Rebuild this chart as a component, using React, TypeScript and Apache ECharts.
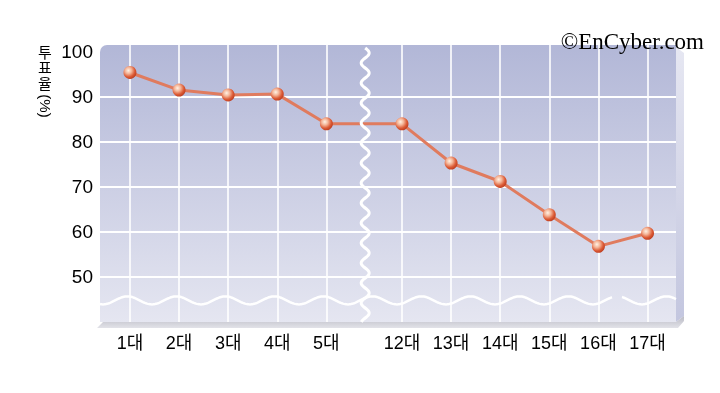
import React, { useEffect, useRef } from "react";
import * as echarts from "echarts";

const categories = ["1대", "2대", "3대", "4대", "5대", "12대", "13대", "14대", "15대", "16대", "17대"];
const turnout = [95.4, 91.5, 90.4, 90.6, 84.0, 84.0, 75.3, 71.2, 63.8, 56.8, 59.7];
const yTickLabels = [50, 60, 70, 80, 90, 100];
const gridValues = [50, 60, 70, 80, 90];
const titleChars = ["투", "표", "율"];
const titleUnit = "(%)";
const breakAfterIndex = 5; // 12대 onward is shifted past the axis break
const breakGap = 0.54;

const positions = categories.map((_, i) => i + (i >= breakAfterIndex ? breakGap : 0));

// layout (pixels)
const PL = 100, PT = 45, PR = 676, PB = 322;
const FONT = "'Liberation Sans', 'Noto Sans CJK KR', Arial, sans-serif";

function wavePointsH(x0: number, x1: number, yc: number, amp: number, period: number) {
  const pts: number[][] = [];
  for (let x = x0; x <= x1; x += 1) {
    pts.push([x, yc + amp * Math.sin((2 * Math.PI * (x - PL)) / period + 1.2)]);
  }
  return pts;
}
function wavePointsV(y0: number, y1: number, xc: number, amp: number, period: number) {
  const pts: number[][] = [];
  for (let y = y0; y <= y1; y += 1) {
    pts.push([xc + amp * Math.sin((2 * Math.PI * (y - y0)) / period), y]);
  }
  return pts;
}

export default function App() {
  const ref = useRef<HTMLDivElement>(null);
  useEffect(() => {
    if (!ref.current) return;
    const chart = echarts.init(ref.current, undefined, { renderer: "svg" });
    const xMin = -0.61;
    const xMax = 11.12;
    const breakPos = (positions[breakAfterIndex - 1] + positions[breakAfterIndex]) / 2;
    const breakPx = PL + ((breakPos - xMin) / (xMax - xMin)) * (PR - PL);
    const waveYVal = 44.8;
    const waveYPx = PB - ((waveYVal - 40) / (101.5 - 40)) * (PB - PT);

    const titleEls = titleChars.map((c, i) => ({
      type: "text",
      z: 10,
      style: {
        x: 45,
        y: 52 + i * 15.5,
        text: c,
        fontSize: 15,
        fontFamily: FONT,
        fill: "#000",
        align: "center",
        verticalAlign: "middle",
      },
    }));

    const option: any = {
      animation: false,
      grid: { left: PL, top: PT, right: 720 - PR, bottom: 393 - PB, containLabel: false },
      xAxis: {
        type: "value",
        min: xMin,
        max: xMax,
        axisLine: { show: false },
        axisTick: { show: false },
        splitLine: { show: false },
        axisLabel: {
          customValues: positions,
          margin: 12,
          fontSize: 18,
          color: "#000",
          fontFamily: FONT,
          formatter: (v: number) => {
            const idx = positions.findIndex((p) => Math.abs(p - v) < 1e-6);
            return idx >= 0 ? categories[idx] : "";
          },
        },
      },
      yAxis: {
        type: "value",
        min: 40,
        max: 101.5,
        interval: 10,
        axisLine: { show: false },
        axisTick: { show: false },
        splitLine: { show: false },
        axisLabel: {
          margin: 7,
          fontSize: 19,
          color: "#000",
          fontFamily: FONT,
          formatter: (v: number) => (yTickLabels.includes(v) ? String(v) : ""),
        },
      },
      graphic: [
        {
          type: "rect",
          z: -10,
          shape: { x: PL, y: PT, width: PR - PL, height: PB - PT, r: [7, 0, 0, 0] },
          style: {
            fill: new echarts.graphic.LinearGradient(0, 0, 0, 1, [
              { offset: 0, color: "#b2b7d7" },
              { offset: 1, color: "#e5e6f1" },
            ]),
          },
        },
        {
          type: "polygon",
          z: -10,
          shape: { points: [[PR, PT + 2], [PR + 8, PT + 8], [PR + 8, PB - 6], [PR, PB]] },
          style: {
            fill: new echarts.graphic.LinearGradient(0, 0, 0, 1, [
              { offset: 0, color: "#e6e7f2" },
              { offset: 1, color: "#c3c6df" },
            ]),
          },
        },
        {
          type: "polygon",
          z: -10,
          shape: { points: [[PL + 3, PB], [PR, PB], [PR + 8, PB - 6], [PR + 8, PB - 1], [PR + 2, PB + 6], [PL - 3, PB + 6]] },
          style: {
            fill: new echarts.graphic.LinearGradient(0, 0, 0, 1, [
              { offset: 0, color: "#b9bac4" },
              { offset: 1, color: "#e2e2e8" },
            ]),
          },
        },
        {
          type: "polyline",
          z: 1,
          shape: { points: wavePointsH(PL, 612, waveYPx, 4, 49) },
          style: { stroke: "#ffffff", lineWidth: 2.5, fill: "none" },
        },
        {
          type: "polyline",
          z: 1,
          shape: { points: wavePointsH(622, PR, waveYPx, 4, 49) },
          style: { stroke: "#ffffff", lineWidth: 2.5, fill: "none" },
        },
        {
          type: "polyline",
          z: 10,
          shape: { points: wavePointsV(PT + 3, PB, breakPx + 1, 4, 20) },
          style: { stroke: "#ffffff", lineWidth: 3, fill: "none" },
        },
        ...titleEls,
        {
          type: "text",
          z: 10,
          x: 45,
          y: 106,
          rotation: -Math.PI / 2,
          style: {
            x: 0,
            y: 0,
            text: titleUnit,
            fontSize: 15,
            fontFamily: FONT,
            fill: "#000",
            align: "center",
            verticalAlign: "middle",
          },
        },
        {
          type: "text",
          z: 10,
          style: {
            x: 704,
            y: 41,
            text: "©EnCyber.com",
            fontSize: 23,
            fontFamily: "'Liberation Serif', 'Times New Roman', serif",
            fill: "#000",
            align: "right",
            verticalAlign: "middle",
          },
        },
      ],
      series: [
        {
          type: "line",
          data: [],
          silent: true,
          z: 1,
          markLine: {
            silent: true,
            symbol: "none",
            label: { show: false },
            animation: false,
            data: [
              ...gridValues.map((v) => ({ yAxis: v, lineStyle: { color: "#ffffff", width: 2, type: "solid" } })),
              ...positions.map((p) => ({ xAxis: p, lineStyle: { color: "#ffffff", width: 1.6, type: "solid" } })),
            ],
          },
        },
        {
          type: "line",
          z: 5,
          data: positions.map((p, i) => [p, turnout[i]]),
          symbol: "circle",
          symbolSize: 13,
          lineStyle: { color: "#e07b5e", width: 3 },
          itemStyle: {
            color: {
              type: "radial",
              x: 0.38,
              y: 0.35,
              r: 0.7,
              colorStops: [
                { offset: 0, color: "#fff2e4" },
                { offset: 0.35, color: "#f4b497" },
                { offset: 0.7, color: "#dc5b36" },
                { offset: 1, color: "#b9391d" },
              ],
            },
            borderWidth: 0,
          },
        },
      ],
    };
    chart.setOption(option);
    return () => chart.dispose();
  }, []);
  return <div ref={ref} style={{ position: "fixed", left: 0, top: 0, width: 720, height: 393 }} />;
}
